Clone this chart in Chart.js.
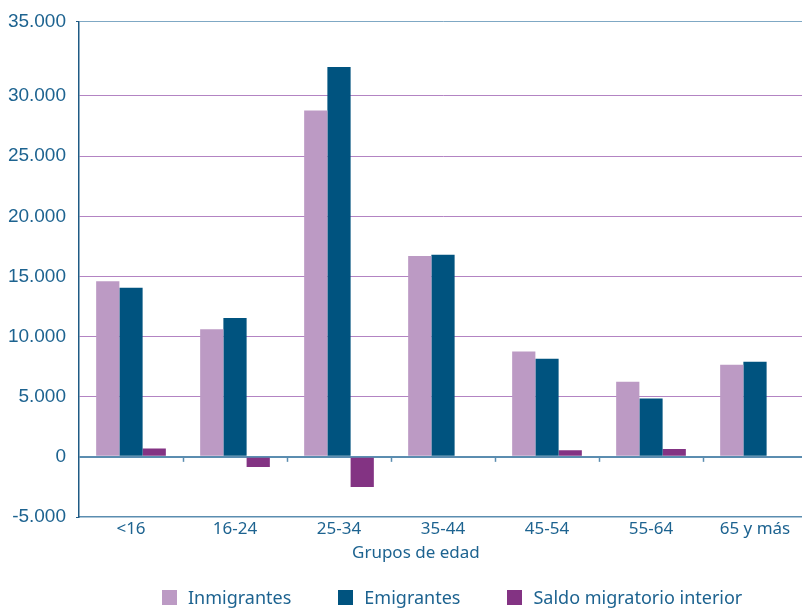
<!DOCTYPE html>
<html lang="es">
<head>
  <meta charset="UTF-8" />
  <title>Migraciones por grupos de edad</title>
  <script src="https://cdn.jsdelivr.net/npm/chart.js"></script>
  <style>
    body {
      margin: 0;
      overflow: hidden;
      background: #ffffff;
      font-family: 'Noto Sans', sans-serif;
      color: #1d6390;
    }
    .wrap {
      position: relative;
      width: 802px;
      height: 608px;
      overflow: hidden;
    }
    canvas {
      position: absolute;
      left: 0;
      top: 0;
    }
    /* axis title sits a bit left of the plot centre in the original */
    .x-title {
      position: absolute;
      left: 352px;
      top: 542px;
      font-size: 17px;
      line-height: 20px;
      white-space: nowrap;
    }
    .legend {
      position: absolute;
      left: 162px;
      top: 585px;
      display: flex;
      align-items: center;
      gap: 47px;
      font-size: 18px;
      line-height: 24px;
      white-space: nowrap;
    }
    .legend span.box {
      display: inline-block;
      width: 15px;
      height: 15px;
      margin-right: 11px;
      vertical-align: -1px;
    }
  </style>
</head>
<body>
  <div class="wrap">
    <canvas id="chart" width="808" height="608"></canvas>
    <div class="x-title">Grupos de edad</div>
    <div class="legend" id="legend"></div>
  </div>

  <script>
    const categories = ['<16', '16-24', '25-34', '35-44', '45-54', '55-64', '65 y más'];
    const seriesNames = ['Inmigrantes', 'Emigrantes', 'Saldo migratorio interior'];
    const seriesColors = ['#bc9ac4', '#00537f', '#833383'];

    const inmigrantes = [14600, 10600, 28800, 16700, 8750, 6250, 7650];
    const emigrantes = [14050, 11550, 32400, 16800, 8150, 4850, 7900];
    const saldo = [700, -850, -2500, 0, 550, 650, 0];

    // the original frame top (labelled 35.000) sits higher than one 5.000 step above 30.000
    const yTop = 36200;
    const yTickValues = [-5000, 0, 5000, 10000, 15000, 20000, 25000, 30000, yTop];
    const yTickLabels = ['-5.000', '0', '5.000', '10.000', '15.000', '20.000', '25.000', '30.000', '35.000'];

    const axisBlue = '#5b8db0';
    const gridPurple = '#b384c3';

    // little ticks on the zero line between the age groups
    const boundaryTicks = {
      id: 'boundaryTicks',
      afterDatasetsDraw(chart) {
        const { ctx, scales: { x, y } } = chart;
        const y0 = y.getPixelForValue(0);
        ctx.save();
        ctx.strokeStyle = axisBlue;
        ctx.lineWidth = 1.5;
        for (let i = 1; i < categories.length; i++) {
          const bx = Math.round((x.getPixelForValue(i - 1) + x.getPixelForValue(i)) / 2) + 0.5;
          ctx.beginPath();
          ctx.moveTo(bx, y0);
          ctx.lineTo(bx, y0 + 5);
          ctx.stroke();
        }
        ctx.restore();
      }
    };

    const allSeries = [inmigrantes, emigrantes, saldo];

    new Chart(document.getElementById('chart'), {
      type: 'bar',
      data: {
        labels: categories,
        datasets: allSeries.map((vals, i) => ({
          label: seriesNames[i],
          data: vals,
          backgroundColor: seriesColors[i],
          borderWidth: 0,
          categoryPercentage: 0.67,
          barPercentage: 1.0
        }))
      },
      options: {
        responsive: false,
        animation: false,
        devicePixelRatio: 1,
        layout: { padding: { left: 0, top: 21, right: 1, bottom: 51 } },
        plugins: {
          legend: { display: false },
          tooltip: { enabled: false }
        },
        scales: {
          x: {
            grid: { display: false, drawTicks: false },
            border: { display: true, color: axisBlue, width: 1.5 },
            ticks: {
              color: '#1d6390',
              padding: 2,
              maxRotation: 0,
              font: { family: 'Noto Sans', size: 17 }
            },
            afterFit(scale) { scale.height = 40; }
          },
          y: {
            min: -5000,
            max: yTop,
            afterBuildTicks(scale) {
              scale.ticks = yTickValues.map(v => ({ value: v }));
            },
            afterFit(scale) { scale.width = 79; },
            border: { display: true, color: '#1f5a84', width: 1.5 },
            grid: {
              color: ctx => {
                const v = ctx.tick && ctx.tick.value;
                if (v === 0) return axisBlue;
                if (v === yTop) return '#7fa8c4';
                if (v === -5000) return 'rgba(0,0,0,0)';
                return gridPurple;
              },
              lineWidth: ctx => (ctx.tick && ctx.tick.value === 0 ? 2 : 1),
              tickLength: 3,
              tickColor: ctx => {
                const v = ctx.tick && ctx.tick.value;
                return (v === yTop || v === -5000) ? '#1f5a84' : 'rgba(0,0,0,0)';
              }
            },
            ticks: {
              color: '#1d6390',
              padding: 10,
              font: { family: 'Liberation Sans', size: 19 },
              callback: (value, index) => yTickLabels[index]
            }
          }
        }
      },
      plugins: [boundaryTicks]
    });

    // legend as plain html under the chart
    const legend = document.getElementById('legend');
    seriesNames.forEach((name, i) => {
      const item = document.createElement('div');
      const box = document.createElement('span');
      box.className = 'box';
      box.style.background = seriesColors[i];
      item.appendChild(box);
      item.appendChild(document.createTextNode(name));
      legend.appendChild(item);
    });
  </script>
</body>
</html>
